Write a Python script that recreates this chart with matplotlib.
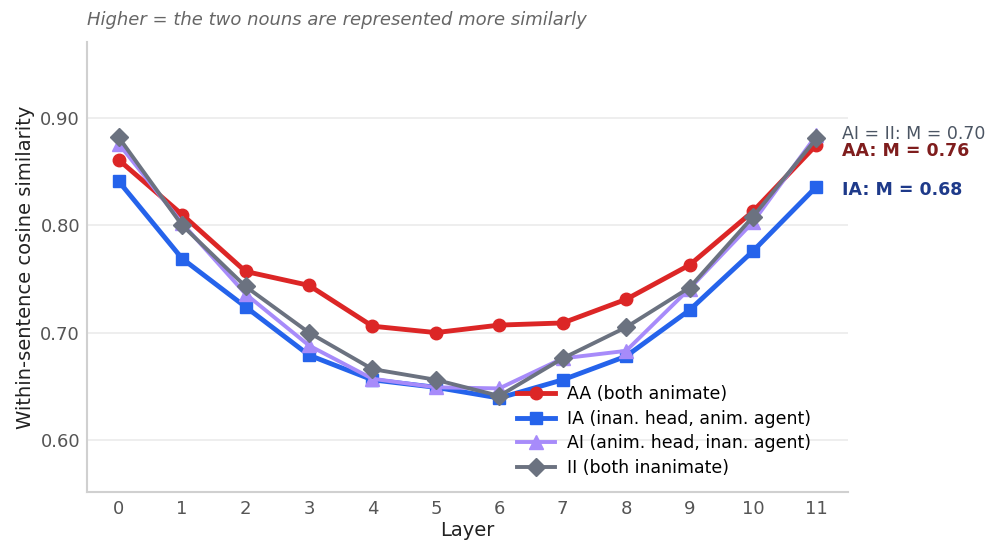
import numpy as np
import matplotlib
matplotlib.use('Agg')
import matplotlib.pyplot as plt

# data
layers = list(range(12))
aa = [0.861, 0.810, 0.757, 0.744, 0.706, 0.700, 0.707, 0.709, 0.731, 0.763, 0.813, 0.875]
ia = [0.841, 0.769, 0.724, 0.679, 0.656, 0.649, 0.639, 0.656, 0.678, 0.721, 0.776, 0.836]
ai = [0.876, 0.802, 0.736, 0.688, 0.657, 0.649, 0.648, 0.676, 0.683, 0.741, 0.803, 0.884]
ii = [0.882, 0.800, 0.743, 0.700, 0.666, 0.656, 0.641, 0.676, 0.705, 0.742, 0.808, 0.881]

labels = ['AA (both animate)', 'IA (inan. head, anim. agent)',
          'AI (anim. head, inan. agent)', 'II (both inanimate)']
end_notes = ['AA: M = 0.76', 'IA: M = 0.68', 'AI = II: M = 0.70']

fig = plt.figure(figsize=(9.86, 5.43), dpi=100)
ax = fig.add_axes([0.0882, 0.094, 0.772, 0.829])

ax.plot(layers, aa, color='#dc2626', lw=3.5, marker='o', ms=9, label=labels[0], zorder=3)
ax.plot(layers, ia, color='#2563eb', lw=3.5, marker='s', ms=9, label=labels[1], zorder=3)
ax.plot(layers, ai, color='#a78bfa', lw=2.8, marker='^', ms=10, label=labels[2], zorder=4)
ax.plot(layers, ii, color='#6b7280', lw=2.8, marker='D', ms=9, label=labels[3], zorder=5)

# end-of-line notes
ax.text(11.4, ai[-1] + 0.0015, end_notes[2], color='#4b5563', fontsize=12.5,
        va='center', ha='left', clip_on=False)
ax.text(11.4, aa[-1] - 0.0055, end_notes[0], color='#7f1d1d', fontsize=12.5,
        fontweight='bold', va='center', ha='left', clip_on=False)
ax.text(11.4, ia[-1] - 0.0035, end_notes[1], color='#1e3a8a', fontsize=12.5,
        fontweight='bold', va='center', ha='left', clip_on=False)

ax.set_xlim(-0.5, 11.5)
ax.set_ylim(0.5515, 0.971)
ax.set_xticks(layers)
ax.set_yticks([0.60, 0.70, 0.80, 0.90])
ax.set_yticklabels(['0.60', '0.70', '0.80', '0.90'])
ax.tick_params(length=0, labelsize=13, labelcolor='#555555')
ax.tick_params(axis='x', pad=6)
ax.tick_params(axis='y', pad=5)
ax.grid(axis='y', color='#ebebeb', lw=1.2)
ax.set_axisbelow(True)
for s in ['top', 'right']:
    ax.spines[s].set_visible(False)
for s in ['left', 'bottom']:
    ax.spines[s].set_color('#d0d0d0')
    ax.spines[s].set_linewidth(1.5)

ax.set_xlabel('Layer', fontsize=14, color='#222222', labelpad=2)
ax.set_ylabel('Within-sentence cosine similarity', fontsize=14, color='#222222', labelpad=4)
ax.set_title('Higher = the two nouns are represented more similarly', loc='left',
             fontsize=13, style='italic', color='#666666', pad=12)

ax.legend(loc='lower right', bbox_to_anchor=(0.965, 0.01), frameon=False, fontsize=12.5,
          handlelength=2.2, handletextpad=0.7, labelspacing=0.38, borderaxespad=0.2)

plt.savefig('out.png', dpi=100)
